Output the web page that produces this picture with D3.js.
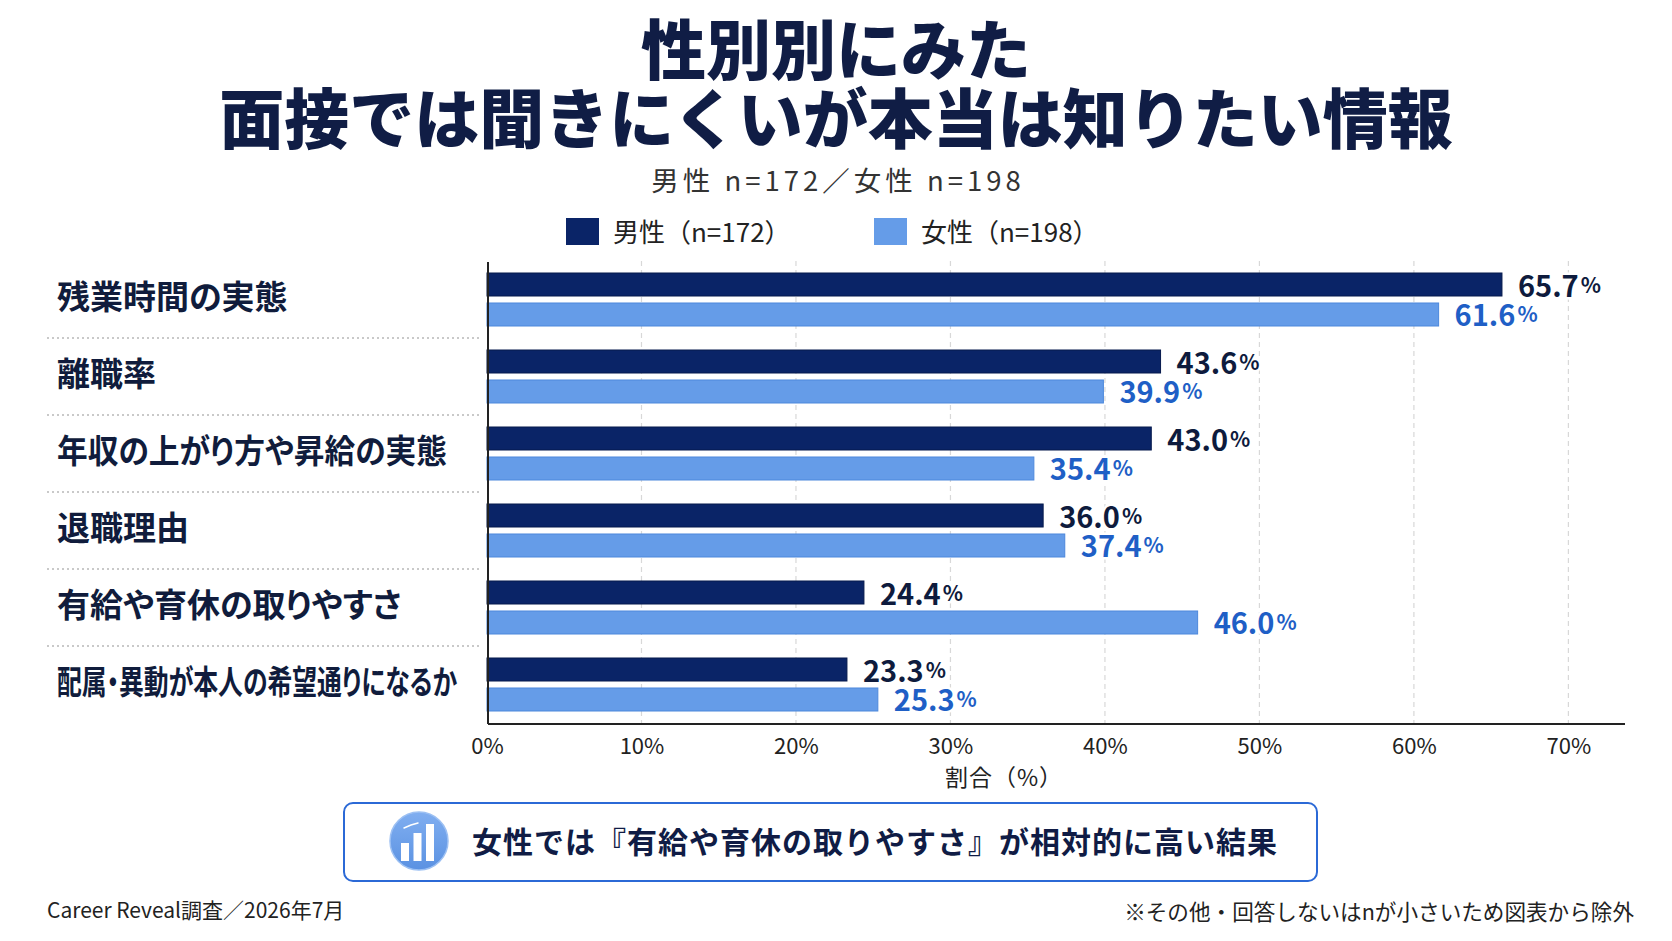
<!DOCTYPE html>
<html lang="ja">

<head>
  <meta charset='utf-8'>
  <script src='https://d3js.org/d3.v7.min.js'></script>
  <title>性別別にみた面接では聞きにくいが本当は知りたい情報</title>
  <style>
    body {
      margin: 0;
      background: #fff;
    }

    svg text {
      font-family: 'Noto Sans CJK JP', 'Noto Sans', sans-serif;
    }

    .axis path {
      stroke: #222;
      stroke-width: 2px;
      shape-rendering: crispEdges;
    }

    .axis text {
      font-size: 22px;
      fill: #222;
    }
  </style>
</head>

<body>
  <div id='chart'></div>
  <script>
    // Data.

    var categories = [
      '残業時間の実態',
      '離職率',
      '年収の上がり方や昇給の実態',
      '退職理由',
      '有給や育休の取りやすさ',
      '配属・異動が本人の希望通りになるか'
    ];
    var maleValues = [65.7, 43.6, 43.0, 36.0, 24.4, 23.3];
    var femaleValues = [61.6, 39.9, 35.4, 37.4, 46.0, 25.3];
    var seriesKeys = ['male', 'female'];
    var seriesNames = ['男性（n=172）', '女性（n=198）'];
    var xTicks = [0, 10, 20, 30, 40, 50, 60, 70];

    var width = 1672,
      height = 941;

    var margin = { top: 261, right: 48, bottom: 218, left: 487 };

    var colors = { male: '#0a2467', female: '#659ce8' };
    var strokes = { male: '#061a4d', female: '#4d88dc' };
    var labelColors = { male: '#0e1b3d', female: '#1f5fc6' };

    var rows = categories.map(function(c, i) {
      return { name: c, male: maleValues[i], female: femaleValues[i] };
    });

    var svg = d3.select('#chart')
      .append('svg')
      .attr('width', width)
      .attr('height', height)
      .attr('viewBox', '0 0 ' + width + ' ' + height);

    svg.append('rect')
      .attr('width', width)
      .attr('height', height)
      .attr('fill', '#fff');

    // Scales.

    var xScale = d3.scaleLinear()
      .domain([0, 73.6])
      .range([margin.left, width - margin.right]);

    var yScale = d3.scaleBand()
      .domain(categories)
      .range([margin.top, height - margin.bottom])
      .padding(0);

    var ySub = d3.scaleBand()
      .domain(seriesKeys)
      .range([0, yScale.bandwidth()])
      .paddingInner(0.233)
      .paddingOuter(0.4);

    // Title block.

    var titleLines = ['性別別にみた', '面接では聞きにくいが本当は知りたい情報'];

    svg.selectAll('.title')
      .data(titleLines)
      .enter()
      .append('text')
      .attr('class', 'title')
      .attr('x', width / 2)
      .attr('y', function(d, i) { return 46 + i * 69; })
      .attr('text-anchor', 'middle')
      .attr('dominant-baseline', 'central')
      .style('font-size', '65px')
      .style('font-weight', 900)
      .style('fill', '#101d45')
      .text(function(d) { return d; });

    svg.append('text')
      .attr('x', width / 2 + 2)
      .attr('y', 179)
      .attr('text-anchor', 'middle')
      .attr('dominant-baseline', 'central')
      .style('font-size', '27.5px')
      .style('letter-spacing', '4px')
      .style('fill', '#333')
      .text('男性 n=172／女性 n=198');

    // Legend.

    var legend = svg.selectAll('.legend')
      .data(seriesKeys)
      .enter()
      .append('g')
      .attr('class', 'legend')
      .attr('transform', function(d, i) {
        return 'translate(' + (566 + i * 308) + ',' + 218 + ')';
      });

    legend.append('rect')
      .attr('width', 33)
      .attr('height', 27)
      .attr('fill', function(d) { return colors[d]; });

    legend.append('text')
      .attr('x', 47)
      .attr('y', 12)
      .attr('dominant-baseline', 'central')
      .style('font-size', '26px')
      .style('fill', '#222')
      .text(function(d, i) { return seriesNames[i]; });

    // Gridlines behind the bars.

    svg.append('g')
      .selectAll('line')
      .data(xTicks.slice(1))
      .enter()
      .append('line')
      .attr('x1', function(d) { return xScale(d); })
      .attr('x2', function(d) { return xScale(d); })
      .attr('y1', margin.top)
      .attr('y2', height - margin.bottom)
      .attr('stroke', '#d8d8d8')
      .attr('stroke-width', 1.2)
      .attr('stroke-dasharray', '5,4');

    // Dotted separators between category labels.

    svg.append('g')
      .selectAll('line')
      .data(categories.slice(1))
      .enter()
      .append('line')
      .attr('x1', 47)
      .attr('x2', margin.left - 8)
      .attr('y1', function(d) { return yScale(d); })
      .attr('y2', function(d) { return yScale(d); })
      .attr('stroke', '#b8b8b8')
      .attr('stroke-width', 1.5)
      .attr('stroke-dasharray', '2,3');

    // Category labels.

    svg.append('g')
      .selectAll('text')
      .data(categories)
      .enter()
      .append('text')
      .attr('x', 57)
      .attr('y', function(d) { return yScale(d) + yScale.bandwidth() / 2 - 5; })
      .attr('dominant-baseline', 'central')
      .style('font-size', '33px')
      .style('font-weight', 700)
      .style('font-feature-settings', '"palt"')
      .style('fill', '#101c3c')
      .text(function(d) { return d; })
      .each(function() {
        // Long labels are squeezed to fit the label column.
        if (this.getComputedTextLength() > 392) {
          d3.select(this)
            .attr('textLength', this.getComputedTextLength() > 420 ? 400 : 390)
            .attr('lengthAdjust', 'spacingAndGlyphs');
        }
      });

    // Bars.

    var groups = svg.append('g')
      .selectAll('g')
      .data(rows)
      .enter()
      .append('g')
      .attr('transform', function(d) {
        return 'translate(0,' + yScale(d.name) + ')';
      });

    var cells = groups.selectAll('g')
      .data(function(d) {
        return seriesKeys.map(function(k) { return { key: k, value: d[k] }; });
      })
      .enter()
      .append('g');

    cells.append('rect')
      .attr('x', xScale(0))
      .attr('y', function(d) { return ySub(d.key); })
      .attr('width', function(d) { return xScale(d.value) - xScale(0); })
      .attr('height', ySub.bandwidth())
      .attr('fill', function(d) { return colors[d.key]; })
      .attr('stroke', function(d) { return strokes[d.key]; })
      .attr('stroke-width', 1);

    var formatValue = d3.format('.1f');

    var valueLabels = cells.append('text')
      .attr('x', function(d) { return xScale(d.value) + 16; })
      .attr('y', function(d) { return ySub(d.key) + ySub.bandwidth() / 2 - 1; })
      .attr('dominant-baseline', 'central')
      .style('font-weight', 700)
      .style('fill', function(d) { return labelColors[d.key]; })
      .style('stroke', '#fff')
      .style('stroke-width', 5)
      .style('paint-order', 'stroke')
      .style('stroke-linejoin', 'round');

    valueLabels.append('tspan')
      .style('font-size', '29px')
      .text(function(d) { return formatValue(d.value); });

    valueLabels.append('tspan')
      .style('font-size', '21px')
      .attr('dx', 2)
      .text('%');

    // Axes.

    svg.append('g')
      .attr('class', 'axis')
      .attr('transform', 'translate(0,' + (height - margin.bottom) + ')')
      .call(d3.axisBottom(xScale)
        .tickValues(xTicks)
        .tickFormat(function(d) { return d + '%'; })
        .tickSize(0)
        .tickPadding(15));

    svg.append('g')
      .attr('class', 'axis')
      .attr('transform', 'translate(' + margin.left + ',0)')
      .call(d3.axisLeft(yScale).tickSize(0).tickFormat(''));

    svg.selectAll('.axis').attr('font-family', null).attr('font-size', null);

    svg.append('text')
      .attr('x', 1004)
      .attr('y', 776)
      .attr('text-anchor', 'middle')
      .attr('dominant-baseline', 'central')
      .style('font-size', '23px')
      .style('letter-spacing', '1px')
      .style('fill', '#222')
      .text('割合（%）');

    // Callout box.

    var callout = svg.append('g');

    callout.append('rect')
      .attr('x', 344)
      .attr('y', 803)
      .attr('width', 973)
      .attr('height', 78)
      .attr('rx', 9)
      .attr('fill', '#fff')
      .attr('stroke', '#2b69d6')
      .attr('stroke-width', 2);

    var grad = svg.append('defs')
      .append('linearGradient')
      .attr('id', 'iconGrad')
      .attr('x1', 0).attr('y1', 0)
      .attr('x2', 0).attr('y2', 1);
    grad.append('stop').attr('offset', '0%').attr('stop-color', '#80aef0');
    grad.append('stop').attr('offset', '100%').attr('stop-color', '#5b92e2');

    callout.append('circle')
      .attr('cx', 419)
      .attr('cy', 841)
      .attr('r', 29)
      .attr('fill', 'url(#iconGrad)')
      .attr('stroke', '#9cc0f3')
      .attr('stroke-width', 1.5);

    var iconBars = [18, 28, 37];

    callout.selectAll('.icon-bar')
      .data(iconBars)
      .enter()
      .append('rect')
      .attr('class', 'icon-bar')
      .attr('x', function(d, i) { return 401 + i * 12.5; })
      .attr('y', function(d) { return 861 - d; })
      .attr('width', 8)
      .attr('height', function(d) { return d; })
      .attr('fill', '#fff');

    callout.append('path')
      .attr('d', 'M404,828 L411,825 L418,823')
      .attr('fill', 'none')
      .attr('stroke', '#fff')
      .attr('stroke-width', 1.5)
      .attr('stroke-linecap', 'round');

    callout.append('text')
      .attr('x', 472)
      .attr('y', 840)
      .attr('dominant-baseline', 'central')
      .style('font-size', '30px')
      .style('font-weight', 700)
      .style('letter-spacing', '1px')
      .style('fill', '#101c45')
      .text('女性では『有給や育休の取りやすさ』が相対的に高い結果');

    // Footer notes.

    svg.append('text')
      .attr('x', 47)
      .attr('y', 909)
      .attr('dominant-baseline', 'central')
      .style('font-size', '21px')
      .style('fill', '#222')
      .text('Career Reveal調査／2026年7月');

    svg.append('text')
      .attr('x', 1634)
      .attr('y', 910)
      .attr('text-anchor', 'end')
      .attr('dominant-baseline', 'central')
      .style('font-size', '21.6px')
      .style('fill', '#222')
      .text('※その他・回答しないはnが小さいため図表から除外');
  </script>
</body>

</html>
